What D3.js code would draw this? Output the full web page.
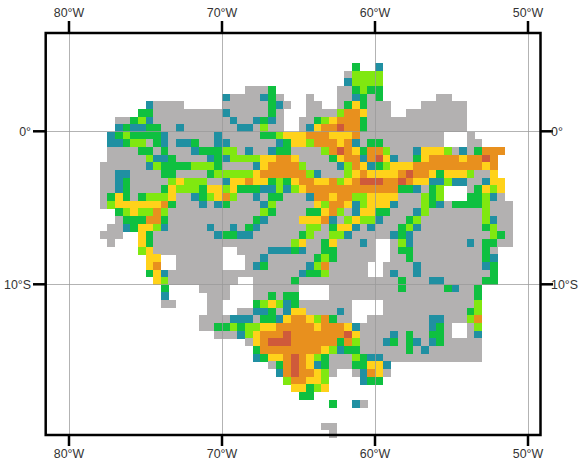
<!DOCTYPE html>
<html><head><meta charset="utf-8">
<script src="https://cdnjs.cloudflare.com/ajax/libs/d3/7.8.5/d3.min.js"></script>
<style>html,body{margin:0;padding:0;background:#fff}svg{display:block}</style>
</head><body><svg id="c" width="579" height="462"></svg>
<script>
const lonTicks=[-80,-70,-60,-50];
const latTicks=[0,-10];
const lonLabels=["80°W","70°W","60°W","50°W"];
const latLabels=["0°","10°S"];
const classCodes=["g","t","e","l","y","o","r"];
const classColors=["#b3b1b1","#2090a2","#0fc040","#80e810","#ffd21a","#e8901e","#cf5a3a"];
const firstLat=4.5, westLon=-80, cellDeg=0.5;
// Each row: "column:classes", letter+number = run of that class
const gridRows=[
"37:e 40:t",
"36:g 37:l4",
"36:t 37:l4",
"23:g3 26:e 35:gg 37:elee",
"20:t 21:g4 25:t 26:e 27:g 31:g 35:gg 37:t 38:e 39:g 40:e 48:gg",
"10:t 11:g4 20:g6 26:e 27:t 28:g 31:gg 35:g 36:e 37:y 38:e 39:g3 46:g6",
"9:ee 11:g9 20:t 21:g5 26:e 27:g 31:g4 35:l 36:oo 38:y 39:g3 44:g8",
"6:gg 8:e 9:l 10:t 11:g10 21:t 22:gg 24:t 25:e 26:t 27:g 30:gg 32:e 33:l 34:y 35:o3 38:e 39:g13",
"6:t 7:e 8:tt 10:ee 12:gg 14:t 15:g7 22:tt 24:g 25:l 26:gg 30:g 31:t 32:y 33:oo 35:r 36:oo 38:e 39:g13",
"5:t 6:e 7:l 8:e4 12:t 13:g6 19:t 20:g5 25:ee 27:l 28:y3 31:o3 34:y3 37:o 38:g11 52:g",
"5:tt 7:e 8:ll 10:g 11:e 12:t 13:g 14:tt 16:e 17:gg 19:tt 21:g6 27:t 28:e 29:yy 31:l 32:o3 35:y 36:o 37:t 38:g 39:ee 41:g8 52:gg",
"5:g4 9:ee 11:g 12:e 13:g3 16:t 17:e3 20:ll 22:g 23:t 24:gg 26:t 27:ee 29:g4 33:l 34:o 35:r 36:o 37:y 38:e 39:oo 41:l 42:g3 45:t 46:y3 49:l 50:g 51:t 52:g 53:e 54:o3",
"5:g5 10:l 11:tt 13:e 14:g4 18:t 19:e 20:t 21:l4 25:yy 27:oo 29:y 30:g4 34:e 35:y 36:oo 38:t 39:o 40:r 41:y 42:t 43:gg 45:e 46:y 47:o4 51:y 52:oo 54:r 55:o",
"4:g6 10:t 11:l 12:e4 16:l3 19:e 20:g4 24:t 25:y 26:o4 30:l 31:g4 35:t 36:l 37:o 38:y 39:t 40:e 41:l 42:y3 45:o9 54:y 55:o",
"4:gg 6:tt 8:g4 12:ee 14:g4 18:e 19:l 20:l4 24:y 25:o6 31:l 32:t 33:g3 36:l 37:y 38:o 39:y4 43:o 44:r 45:oo 47:y 48:e 49:y3 52:l 53:gg 55:y",
"4:gg 6:t 7:e 8:g5 13:l 14:y 15:l3 18:gg 20:t 21:yy 23:o 24:yy 26:e 27:l 28:e 29:y 30:oo 32:yy 34:o 35:l 36:y 37:o 38:r3 41:oo 43:r 44:o 45:yy 47:tt 49:l 50:tt 52:gg 54:t 55:yy",
"4:gg 6:t 7:e 8:g4 12:e 13:y 14:l3 17:e 18:yy 20:l 21:y 22:e3 25:tt 27:l 28:t 29:l 30:y 31:o12 43:ee 45:t 46:g 47:e 48:l 52:g 53:e 54:y 55:l 56:y",
"4:g 5:e 6:y 7:e 8:g 9:e 10:l3 13:y 14:gg 16:t 17:e 18:l 19:y 20:o 21:l 22:gg 24:t 25:g 26:ee 28:g3 31:t 32:oo 34:y 35:oo 37:ll 39:y 40:y3 43:g3 46:l 47:e 48:l 52:ee 54:l 55:t 56:g",
"4:g 5:l 6:y6 12:o 13:e 14:g3 17:t 18:g 19:t 20:e 21:g4 25:t 26:l 27:g5 32:y 33:l 34:oo 36:y 37:t 38:l 39:y3 42:t 43:g3 46:l 47:e 48:t 49:g 50:e4 54:l 55:g3",
"6:e 7:l 8:y 9:ll 11:o 12:l 13:g12 25:l 26:e 27:g4 31:ee 33:y 34:o 35:l 36:g 37:t 38:yy 40:ee 42:g3 45:t 46:l 47:g7 54:l 55:g3",
"6:g 7:e3 10:oo 12:e 13:g11 24:e 25:t 26:g4 30:y3 33:o 34:t 35:g 36:l 37:y 38:ll 40:t 41:g3 44:e 45:l 46:g8 54:l 55:t 56:gg",
"5:gg 7:t 8:e 9:yy 11:l 12:t 13:g5 18:t 19:gg 21:t 22:g 23:e 24:t 25:g6 31:ll 33:g 34:e 35:yy 37:t 38:g 39:t 40:g3 43:e 44:l 45:t 46:g8 54:e 55:l 56:gg",
"4:g3 9:y 10:e 11:g8 19:t 20:ee 22:tt 24:g6 30:e 31:l 32:gg 34:ll 36:t 37:g5 42:t 43:e 44:t 45:g10 55:l 56:e 57:g",
"5:g 9:y 10:e 11:g18 29:l 30:y 31:gg 33:e 34:y 35:g3 38:t 39:g 42:g 43:l 44:t 45:g7 52:t 53:g 54:ee 56:gg",
"9:l 10:y 11:g9 22:g4 26:t3 29:e 30:t 31:gg 33:ee 35:g5 42:g 43:ee 45:g9 54:e 55:g",
"10:yy 14:g6 23:gg 25:t 26:g6 32:e 33:l 34:e 35:g5 42:gg 44:e 45:g9 54:e 55:t",
"10:y 11:o 14:g6 23:g 24:t 25:e 26:g5 31:t 32:l 33:o 34:g5 41:g4 45:t 46:g8 54:t 55:e",
"10:e 11:y 12:t 13:g17 30:t 31:ee 33:l 34:g5 41:g 42:t 43:gg 45:t 46:g9 55:e",
"11:y 12:l 13:g9 24:g5 29:e 30:g13 43:e 44:g3 47:tt 49:g5 54:ee",
"12:e 17:g4 24:g6 34:g9 43:e 44:g5 49:e 50:t 51:gg 53:e",
"12:t 18:g3 24:gg 26:e 27:g 28:ee 34:g19 53:e",
"12:gg 18:gg 24:e 25:l 26:y 27:l 28:t 29:e 30:g7 41:g12 53:l",
"18:gg 22:gg 24:tt 26:e 27:g 28:t 29:yy 31:g4 35:t 36:g 41:g11 52:e 53:l",
"17:g4 21:t3 24:g 25:ee 27:t 28:y 29:oo 31:y 32:l 33:o 34:e 35:gg 39:g8 47:tt 49:g3 52:l 53:o",
"17:gg 19:ee 21:l 22:e 23:ll 25:yy 27:o5 32:y 33:o3 36:y 37:t 38:g9 47:t 48:e 49:g 52:g 53:l",
"19:g3 22:t 23:l 24:y 25:o3 28:r 29:o7 36:r 37:y 38:g4 42:t 43:g 44:e 45:gg 47:ee 49:g 52:g 53:t",
"23:g 24:y 25:o 26:r3 29:o6 35:e 36:o 37:l 38:g3 41:t 42:e 43:g 44:e 45:t 46:g 47:t 48:e 49:g5",
"24:e 25:o8 33:y 34:l 35:t 36:ee 38:g6 44:e 45:g 46:t 47:g7",
"24:t 25:e 26:yy 28:o 29:r 30:o 31:y 32:l 33:e 34:g3 37:l 38:e 39:tt 41:g13",
"26:g 27:e 28:o 29:r 30:o 31:y 32:t 33:e 34:g3 37:ee 39:yy 41:t",
"27:t 28:o 29:r 30:oo 32:y 33:l 34:g 37:g 38:t 39:o 40:y 41:g",
"28:l 29:oo 31:yy 33:l 38:t 39:ee",
"29:yy 31:e 32:l 33:y",
"30:ee",
"34:e 37:t 38:g",
"",
"",
"33:gg",
"34:g"
];

const svg=d3.select("#c");
const x=d3.scaleLinear().domain([-80,-50]).range([69,528]);
const y=d3.scaleLinear().domain([0,-10]).range([131.8,284.8]);
const color=d3.scaleOrdinal().domain(classCodes).range(classColors);

const cells=[];
gridRows.forEach((row,r)=>{
  if(!row)return;
  row.split(" ").forEach(seg=>{
    const [k,codes]=seg.split(":");
    const run=codes.replace(/([a-z])(\d+)/g,(m,c,n)=>c.repeat(+n));
    [...run].forEach((c,i)=>cells.push({lon:westLon+(+k+i)*cellDeg,lat:firstLat-r*cellDeg,c}));
  });
});

svg.append("g").attr("shape-rendering","crispEdges").selectAll("rect").data(cells).join("rect")
  .attr("x",d=>x(d.lon)).attr("y",d=>y(d.lat))
  .attr("width",d=>x(d.lon+cellDeg)-x(d.lon)+0.3)
  .attr("height",d=>y(d.lat-cellDeg)-y(d.lat)+0.3)
  .attr("fill",d=>color(d.c));

const L=45.7,R=540.5,T=33,B=435;
const grid=svg.append("g").attr("stroke","#999").attr("stroke-opacity",0.75).attr("stroke-width",1);
grid.selectAll("line.v").data(lonTicks).join("line").attr("class","v")
  .attr("x1",d=>Math.round(x(d))+0.5).attr("x2",d=>Math.round(x(d))+0.5).attr("y1",T).attr("y2",B);
grid.selectAll("line.h").data(latTicks).join("line").attr("class","h")
  .attr("y1",d=>Math.round(y(d))-0.5).attr("y2",d=>Math.round(y(d))-0.5).attr("x1",L).attr("x2",R);

svg.append("rect").attr("x",L).attr("y",T).attr("width",R-L).attr("height",B-T)
  .attr("fill","none").attr("stroke","#000").attr("stroke-width",2.5);

const ticks=svg.append("g").attr("stroke","#000").attr("stroke-width",2.5);
lonTicks.forEach(d=>{
  ticks.append("line").attr("x1",x(d)).attr("x2",x(d)).attr("y1",21).attr("y2",T);
  ticks.append("line").attr("x1",x(d)).attr("x2",x(d)).attr("y1",B).attr("y2",446);
});
latTicks.forEach(d=>{
  ticks.append("line").attr("y1",y(d)-0.5).attr("y2",y(d)-0.5).attr("x1",33).attr("x2",L);
  ticks.append("line").attr("y1",y(d)-0.5).attr("y2",y(d)-0.5).attr("x1",R).attr("x2",553);
});

const txt=svg.append("g").attr("font-family","'Liberation Sans',Arial,sans-serif").attr("font-size",12.4).attr("fill","#333");
lonTicks.forEach((d,i)=>{
  txt.append("text").attr("x",x(d)).attr("y",17).attr("text-anchor","middle").text(lonLabels[i]);
  txt.append("text").attr("x",x(d)).attr("y",458).attr("text-anchor","middle").text(lonLabels[i]);
});
latTicks.forEach((d,i)=>{
  txt.append("text").attr("x",31).attr("y",y(d)+4).attr("text-anchor","end").text(latLabels[i]);
  txt.append("text").attr("x",551).attr("y",y(d)+4).attr("text-anchor","start").text(latLabels[i]);
});
</script></body></html>
